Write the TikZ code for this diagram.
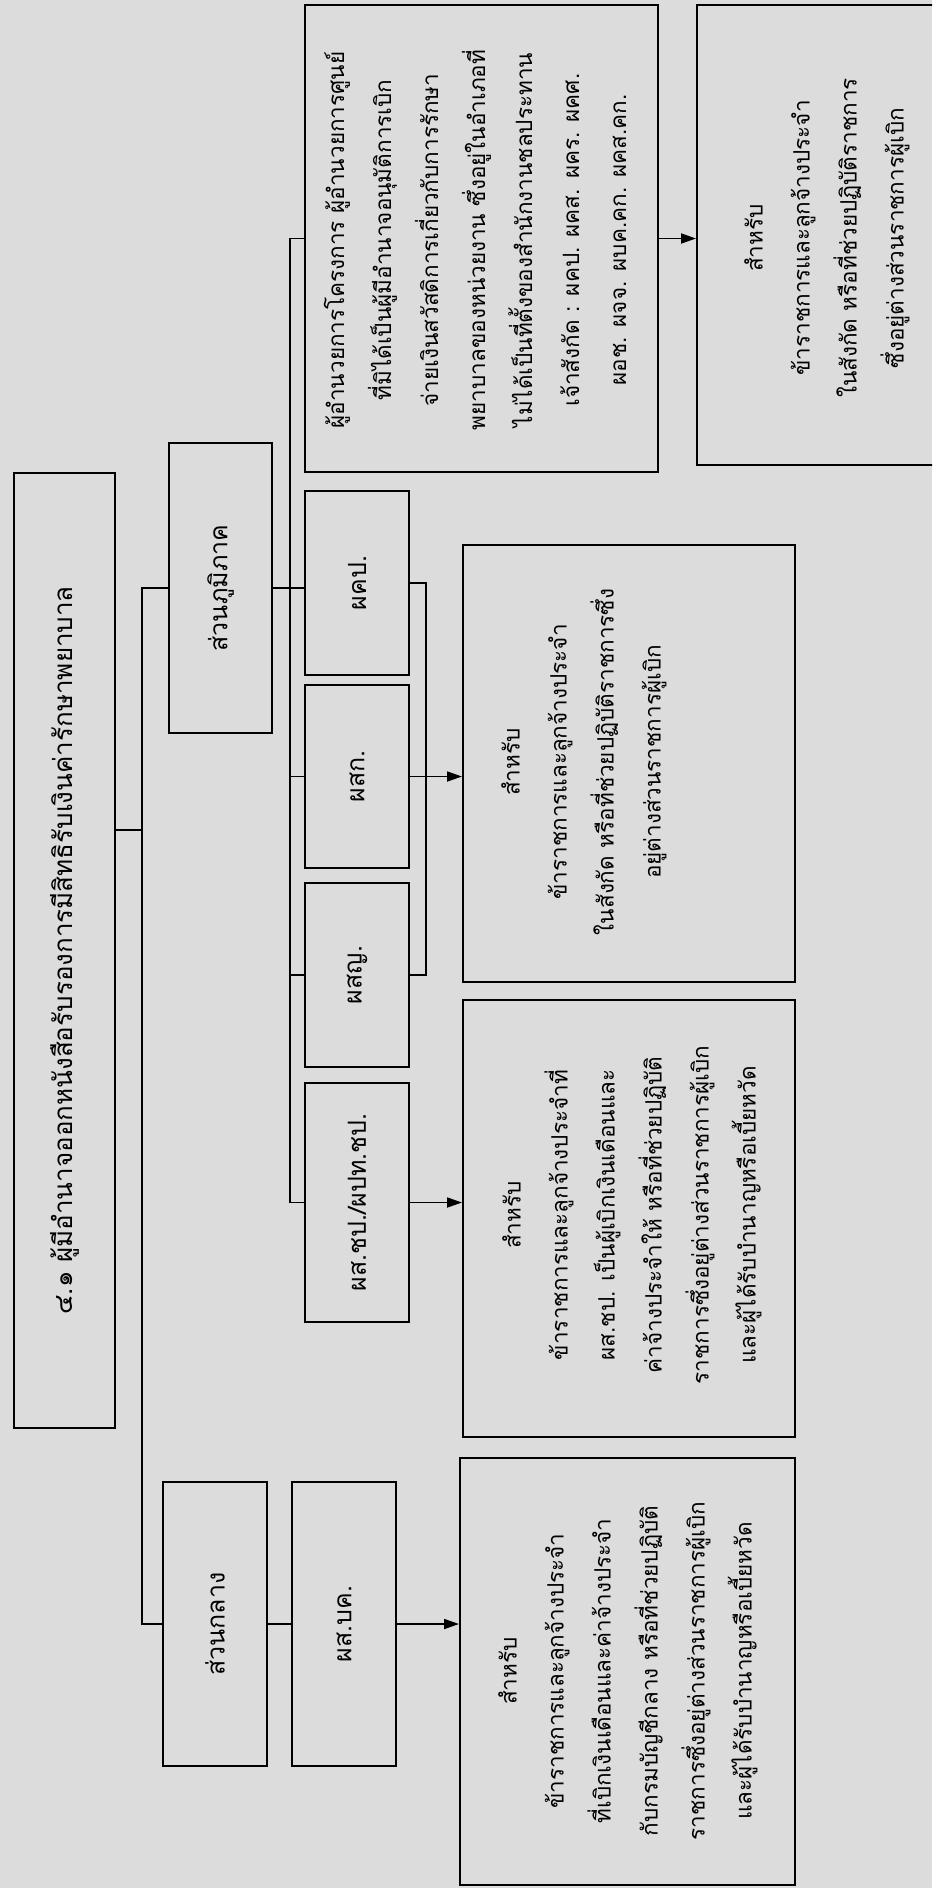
\documentclass[tikz,border=0pt]{standalone}
\usepackage{fontspec}
\newfontfamily\thaifont[Script=Thai]{Loma}
\usetikzlibrary{arrows.meta}
\definecolor{paper}{HTML}{DCDCDC}
\begin{document}
\begin{tikzpicture}[x=1pt,y=-1pt,
  box/.style={draw, line width=2pt, inner sep=0pt},
  lbl/.style={rotate=90, font=\thaifont\fontsize{25}{30}\selectfont},
  head/.style={rotate=90, font=\thaifont\fontsize{26}{30}\selectfont},
  body/.style={rotate=90, align=center, font=\thaifont\fontsize{22.5}{47}\selectfont},
  link/.style={line width=1.8pt},
  arr/.style={line width=1.8pt, -{Triangle[length=15pt,width=10pt]}}
]
\fill[paper] (0,0) rectangle (932,1888);
\clip (0,0) rectangle (932,1888);

% --- boxes ---
\node[box, minimum width=101pt, minimum height=955pt] (title) at (64.5,950.5) {};
\node[box, minimum width=103pt, minimum height=290pt] (rg) at (220.5,588) {};
\node[box, minimum width=104pt, minimum height=284pt] (cen) at (215,1624) {};
\node[box, minimum width=104pt, minimum height=284pt] (bk) at (344,1624) {};
\node[box, minimum width=353pt, minimum height=467pt] (dir) at (481.5,238.5) {};
\node[box, minimum width=260pt, minimum height=460pt] (rbox) at (827,235) {};
\node[box, minimum width=104pt, minimum height=184pt] (pkp) at (357,583) {};
\node[box, minimum width=104pt, minimum height=183pt] (psk) at (357,776.5) {};
\node[box, minimum width=104pt, minimum height=184pt] (psy) at (357,975) {};
\node[box, minimum width=104pt, minimum height=239pt] (chp) at (357,1202.5) {};
\node[box, minimum width=332pt, minimum height=437pt] (boxA) at (629,763.5) {};
\node[box, minimum width=332pt, minimum height=437pt] (boxB) at (629,1218.5) {};
\node[box, minimum width=335pt, minimum height=427pt] (boxC) at (627.5,1671.5) {};

% --- labels ---
\node[head] (ttitle) at (title.center) {๔.๑ ผู้มีอำนาจออกหนังสือรับรองการมีสิทธิรับเงินค่ารักษาพยาบาล};
\node[lbl] (trg) at (rg.center) {ส่วนภูมิภาค};
\node[lbl] (tcen) at (cen.center) {ส่วนกลาง};
\node[lbl] (tbk) at (bk.center) {ผส.บค.};
\node[lbl] (tpkp) at (pkp.center) {ผคป.};
\node[lbl] (tpsk) at (psk.center) {ผสก.};
\node[lbl] (tpsy) at (psy.center) {ผสญ.};
\node[lbl] (tchp) at (chp.center) {ผส.ชป./ผปท.ชป.};

\node[body] (tdir) at (475,240) {ผู้อำนวยการโครงการ ผู้อำนวยการศูนย์\\
  ที่มิได้เป็นผู้มีอำนาจอนุมัติการเบิก\\
  จ่ายเงินสวัสดิการเกี่ยวกับการรักษา\\
  พยาบาลของหน่วยงาน ซึ่งอยู่ในอำเภอที่\\
  ไม่ได้เป็นที่ตั้งของสำนักงานชลประทาน\\
  เจ้าสังกัด : ผคป. ผคส. ผคร. ผคศ.\\
  ผอช. ผจจ. ผบค.คก. ผคส.คก.};
\node[body] (trbox) at (827,238) {สำหรับ\\
  ข้าราชการและลูกจ้างประจำ\\
  ในสังกัด หรือที่ช่วยปฏิบัติราชการ\\
  ซึ่งอยู่ต่างส่วนราชการผู้เบิก};
\node[body] (tA) at (584,762) {สำหรับ\\
  ข้าราชการและลูกจ้างประจำ\\
  ในสังกัด หรือที่ช่วยปฏิบัติราชการซึ่ง\\
  อยู่ต่างส่วนราชการผู้เบิก};
\node[body] (tB) at (632,1215) {สำหรับ\\
  ข้าราชการและลูกจ้างประจำที่\\
  ผส.ชป. เป็นผู้เบิกเงินเดือนและ\\
  ค่าจ้างประจำให้ หรือที่ช่วยปฏิบัติ\\
  ราชการซึ่งอยู่ต่างส่วนราชการผู้เบิก\\
  และผู้ได้รับบำนาญหรือเบี้ยหวัด};
\node[body] (tC) at (628,1671) {สำหรับ\\
  ข้าราชการและลูกจ้างประจำ\\
  ที่เบิกเงินเดือนและค่าจ้างประจำ\\
  กับกรมบัญชีกลาง หรือที่ช่วยปฏิบัติ\\
  ราชการซึ่งอยู่ต่างส่วนราชการผู้เบิก\\
  และผู้ได้รับบำนาญหรือเบี้ยหวัด};

% --- junction points ---
\coordinate (trunk) at (142,830);
\coordinate (bus) at (290,0);
\coordinate (rjoin) at (426,0);

% --- connectors ---
\draw[link] (title.east |- trunk) -- (trunk);
\draw[link] (rg.west) -| (trunk |- cen.west) -- (cen.west);
\draw[link] (cen.east) -- (bk.east -| bk.west);
\draw[link] (rg.east) -- (rg.east -| pkp.west);
\draw[link] (dir.west) -| (bus |- chp.west) -- (chp.west);
\draw[link] (bus |- psk.west) -- (psk.west);
\draw[link] (bus |- psy.west) -- (psy.west);
\draw[link] (pkp.east) -| (rjoin |- psy.east) -- (psy.east);
\draw[arr] (psk.east) -- (psk.east -| boxA.west);
\draw[arr] (chp.east) -- (chp.east -| boxB.west);
\draw[arr] (bk.east) -- (bk.east -| boxC.west);
\draw[arr] (dir.east) -- (dir.east -| rbox.west);
\end{tikzpicture}
\end{document}
